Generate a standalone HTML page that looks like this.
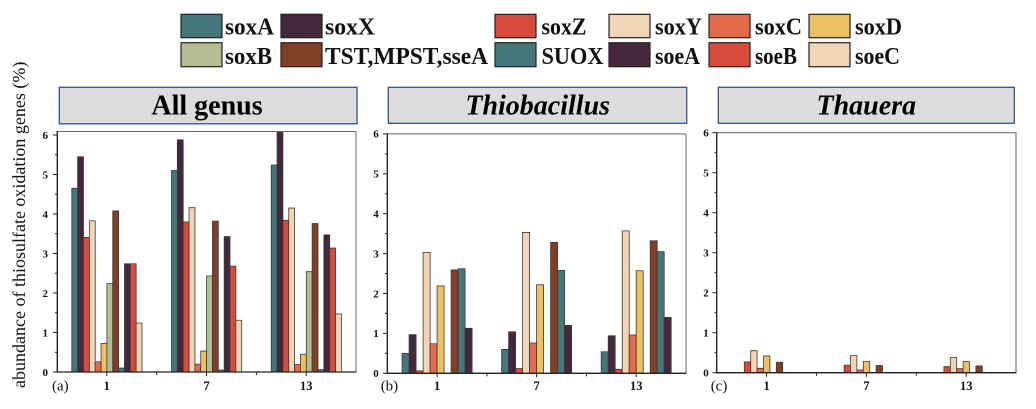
<!DOCTYPE html>
<html><head><meta charset="utf-8"><style>
html,body{margin:0;padding:0;background:#fff;}
svg{display:block;font-family:"Liberation Serif","Times New Roman",serif;}
text{font-family:"Liberation Serif","Times New Roman",serif;}
.bar{stroke:#3a3a3a;stroke-width:0.8;vector-effect:non-scaling-stroke;}
.yt{font-size:11px;font-weight:bold;text-anchor:end;}
.xt{font-size:12.5px;font-weight:bold;text-anchor:middle;}
.lg{font-size:24px;font-weight:bold;}
.ttl{font-size:28px;font-weight:bold;text-anchor:middle;}
.A{fill:#44777a}.X{fill:#43293b}.Z{fill:#d84b3c}.Y{fill:#f1d5b5}.C{fill:#e36b4c}.D{fill:#eec064}.B{fill:#b6bd95}.T{fill:#823f28}
</style></head><body>
<svg width="1036" height="409" viewBox="0 0 1036 409" xmlns="http://www.w3.org/2000/svg" font-family="Liberation Serif, Times New Roman, serif">
<!-- Legend -->
<g stroke="#222" stroke-width="1.2">
<rect class="A" x="181" y="14.3" width="41" height="23.4"/>
<rect class="X" x="281" y="14.3" width="41" height="23.4"/>
<rect class="Z" x="495" y="14.3" width="41" height="23.4"/>
<rect class="Y" x="609" y="14.3" width="41" height="23.4"/>
<rect class="C" x="709" y="14.3" width="41" height="23.4"/>
<rect class="D" x="809" y="14.3" width="41" height="23.4"/>
<rect class="B" x="181" y="42.7" width="41" height="24"/>
<rect class="T" x="281" y="42.7" width="41" height="24"/>
<rect class="A" x="495" y="42.7" width="41" height="24"/>
<rect class="X" x="609" y="42.7" width="41" height="24"/>
<rect class="Z" x="709" y="42.7" width="41" height="24"/>
<rect fill="#f1d6b8" x="809" y="42.7" width="41" height="24"/>
</g>
<g class="lg" fill="#111">
<text x="225" y="34.5" textLength="49" lengthAdjust="spacingAndGlyphs">soxA</text>
<text x="325" y="34.5" textLength="50" lengthAdjust="spacingAndGlyphs">soxX</text>
<text x="541.5" y="34.5" textLength="45" lengthAdjust="spacingAndGlyphs">soxZ</text>
<text x="655" y="34.5" textLength="47" lengthAdjust="spacingAndGlyphs">soxY</text>
<text x="755" y="34.5" textLength="47" lengthAdjust="spacingAndGlyphs">soxC</text>
<text x="855" y="34.5" textLength="47" lengthAdjust="spacingAndGlyphs">soxD</text>
<text x="225" y="64" textLength="47" lengthAdjust="spacingAndGlyphs">soxB</text>
<text x="325" y="64" textLength="163" lengthAdjust="spacingAndGlyphs">TST,MPST,sseA</text>
<text x="541.5" y="64" textLength="62" lengthAdjust="spacingAndGlyphs">SUOX</text>
<text x="655" y="64" textLength="45" lengthAdjust="spacingAndGlyphs">soeA</text>
<text x="755" y="64" textLength="42" lengthAdjust="spacingAndGlyphs">soeB</text>
<text x="855" y="64" textLength="45" lengthAdjust="spacingAndGlyphs">soeC</text>
</g>

<!-- Y axis label -->
<text transform="translate(25,388) rotate(-90)" font-size="18" fill="#111">abundance of thiosulfate oxidation genes (%)</text>

<!-- Title boxes -->
<g fill="#dcdcdc" stroke="#2f5496" stroke-width="1.3">
<rect x="59.3" y="87.3" width="297.7" height="36.5"/>
<rect x="388.3" y="87.3" width="298.4" height="36"/>
<rect x="718.3" y="87.3" width="296" height="36"/>
</g>
<text class="ttl" x="207" y="114.5">All genus</text>
<text class="ttl" x="537.7" y="114.5" font-style="italic">Thiobacillus</text>
<text class="ttl" x="866.3" y="114.5" font-style="italic">Thauera</text>

<!-- ================= Panel 1 ================= -->
<g transform="translate(0,372) scale(1,-39.5)">
<rect class="bar A" x="71.8" y="0" width="5.85" height="4.65"/>
<rect class="bar X" x="77.65" y="0" width="5.85" height="5.45"/>
<rect class="bar Z" x="83.5" y="0" width="5.85" height="3.41"/>
<rect class="bar Y" x="89.35" y="0" width="5.85" height="3.83"/>
<rect class="bar C" x="95.2" y="0" width="5.85" height="0.26"/>
<rect class="bar D" x="101.05" y="0" width="5.85" height="0.72"/>
<rect class="bar B" x="106.9" y="0" width="5.85" height="2.24"/>
<rect class="bar T" x="112.75" y="0" width="5.85" height="4.08"/>
<rect class="bar A" x="118.6" y="0" width="5.85" height="0.1"/>
<rect class="bar X" x="124.45" y="0" width="5.85" height="2.74"/>
<rect class="bar Z" x="130.3" y="0" width="5.85" height="2.74"/>
<rect class="bar Y" x="136.15" y="0" width="5.85" height="1.24"/>

<rect class="bar A" x="171.5" y="0" width="5.85" height="5.1"/>
<rect class="bar X" x="177.35" y="0" width="5.85" height="5.88"/>
<rect class="bar Z" x="183.2" y="0" width="5.85" height="3.8"/>
<rect class="bar Y" x="189.05" y="0" width="5.85" height="4.16"/>
<rect class="bar C" x="194.9" y="0" width="5.85" height="0.2"/>
<rect class="bar D" x="200.75" y="0" width="5.85" height="0.53"/>
<rect class="bar B" x="206.6" y="0" width="5.85" height="2.43"/>
<rect class="bar T" x="212.45" y="0" width="5.85" height="3.82"/>
<rect class="bar A" x="218.3" y="0" width="5.85" height="0.05"/>
<rect class="bar X" x="224.15" y="0" width="5.85" height="3.43"/>
<rect class="bar Z" x="230" y="0" width="5.85" height="2.68"/>
<rect class="bar Y" x="235.85" y="0" width="5.85" height="1.31"/>

<rect class="bar A" x="271.2" y="0" width="5.85" height="5.24"/>
<rect class="bar X" x="277.05" y="0" width="5.85" height="6.07"/>
<rect class="bar Z" x="282.9" y="0" width="5.85" height="3.84"/>
<rect class="bar Y" x="288.75" y="0" width="5.85" height="4.15"/>
<rect class="bar C" x="294.6" y="0" width="5.85" height="0.19"/>
<rect class="bar D" x="300.45" y="0" width="5.85" height="0.45"/>
<rect class="bar B" x="306.3" y="0" width="5.85" height="2.54"/>
<rect class="bar T" x="312.15" y="0" width="5.85" height="3.76"/>
<rect class="bar A" x="318" y="0" width="5.85" height="0.06"/>
<rect class="bar X" x="323.85" y="0" width="5.85" height="3.47"/>
<rect class="bar Z" x="329.7" y="0" width="5.85" height="3.14"/>
<rect class="bar Y" x="335.55" y="0" width="5.85" height="1.47"/>
</g>
<rect x="57.3" y="131.5" width="298.7" height="240.5" fill="none" stroke="#666" stroke-width="1"/>
<g stroke="#222" stroke-width="1.3">
<line x1="57.3" y1="131" x2="57.3" y2="372.5"/>
<line x1="57" y1="372" x2="356.5" y2="372"/>
</g>
<g stroke="#222" stroke-width="1">
<line x1="53" y1="372" x2="57" y2="372"/><line x1="53" y1="332.5" x2="57" y2="332.5"/><line x1="53" y1="293" x2="57" y2="293"/><line x1="53" y1="253.5" x2="57" y2="253.5"/><line x1="53" y1="214" x2="57" y2="214"/><line x1="53" y1="174.5" x2="57" y2="174.5"/><line x1="53" y1="135" x2="57" y2="135"/>
<line x1="55" y1="352.25" x2="57" y2="352.25"/><line x1="55" y1="312.75" x2="57" y2="312.75"/><line x1="55" y1="273.25" x2="57" y2="273.25"/><line x1="55" y1="233.75" x2="57" y2="233.75"/><line x1="55" y1="194.25" x2="57" y2="194.25"/><line x1="55" y1="154.75" x2="57" y2="154.75"/>
<line x1="106.8" y1="372" x2="106.8" y2="376"/><line x1="206.5" y1="372" x2="206.5" y2="376"/><line x1="306.2" y1="372" x2="306.2" y2="376"/>
<line x1="156.7" y1="372" x2="156.7" y2="375"/><line x1="256.4" y1="372" x2="256.4" y2="375"/>
</g>
<g class="yt" fill="#111">
<text x="48" y="375.8">0</text><text x="48" y="336.3">1</text><text x="48" y="296.8">2</text><text x="48" y="257.3">3</text><text x="48" y="217.8">4</text><text x="48" y="178.3">5</text><text x="48" y="138.8">6</text>
</g>
<g class="xt" fill="#111">
<text x="106.8" y="390">1</text><text x="206.5" y="390">7</text><text x="306.2" y="390">13</text>
</g>
<text x="52" y="390.5" font-size="15" fill="#111">(a)</text>

<!-- ================= Panel 2 ================= -->
<g transform="translate(0,373.3) scale(1,-39.9)">
<rect class="bar A" x="402.1" y="0" width="7" height="0.5"/>
<rect class="bar X" x="409.1" y="0" width="7" height="0.97"/>
<rect class="bar Z" x="416.1" y="0" width="7" height="0.06"/>
<rect class="bar Y" x="423.1" y="0" width="7" height="3.03"/>
<rect class="bar C" x="430.1" y="0" width="7" height="0.74"/>
<rect class="bar D" x="437.1" y="0" width="7" height="2.19"/>
<rect class="bar T" x="451.1" y="0" width="7" height="2.59"/>
<rect class="bar A" x="458.1" y="0" width="7" height="2.62"/>
<rect class="bar X" x="465.1" y="0" width="7" height="1.13"/>

<rect class="bar A" x="501.6" y="0" width="7" height="0.6"/>
<rect class="bar X" x="508.6" y="0" width="7" height="1.04"/>
<rect class="bar Z" x="515.6" y="0" width="7" height="0.12"/>
<rect class="bar Y" x="522.6" y="0" width="7" height="3.53"/>
<rect class="bar C" x="529.6" y="0" width="7" height="0.76"/>
<rect class="bar D" x="536.6" y="0" width="7" height="2.22"/>
<rect class="bar T" x="550.6" y="0" width="7" height="3.28"/>
<rect class="bar A" x="557.6" y="0" width="7" height="2.58"/>
<rect class="bar X" x="564.6" y="0" width="7" height="1.2"/>

<rect class="bar A" x="601.2" y="0" width="7" height="0.54"/>
<rect class="bar X" x="608.2" y="0" width="7" height="0.94"/>
<rect class="bar Z" x="615.2" y="0" width="7" height="0.1"/>
<rect class="bar Y" x="622.2" y="0" width="7" height="3.57"/>
<rect class="bar C" x="629.2" y="0" width="7" height="0.96"/>
<rect class="bar D" x="636.2" y="0" width="7" height="2.57"/>
<rect class="bar T" x="650.2" y="0" width="7" height="3.32"/>
<rect class="bar A" x="657.2" y="0" width="7" height="3.05"/>
<rect class="bar X" x="664.2" y="0" width="7" height="1.4"/>
</g>
<rect x="387.3" y="133.9" width="298.7" height="239.4" fill="none" stroke="#666" stroke-width="1"/>
<g stroke="#222" stroke-width="1.3">
<line x1="387.3" y1="133.4" x2="387.3" y2="373.8"/>
<line x1="387" y1="373.3" x2="686.5" y2="373.3"/>
</g>
<g stroke="#222" stroke-width="1">
<line x1="383" y1="373.3" x2="387" y2="373.3"/><line x1="383" y1="333.4" x2="387" y2="333.4"/><line x1="383" y1="293.5" x2="387" y2="293.5"/><line x1="383" y1="253.6" x2="387" y2="253.6"/><line x1="383" y1="213.7" x2="387" y2="213.7"/><line x1="383" y1="173.8" x2="387" y2="173.8"/><line x1="383" y1="133.9" x2="387" y2="133.9"/>
<line x1="385" y1="353.35" x2="387" y2="353.35"/><line x1="385" y1="313.45" x2="387" y2="313.45"/><line x1="385" y1="273.55" x2="387" y2="273.55"/><line x1="385" y1="233.65" x2="387" y2="233.65"/><line x1="385" y1="193.75" x2="387" y2="193.75"/><line x1="385" y1="153.85" x2="387" y2="153.85"/>
<line x1="437.1" y1="373.3" x2="437.1" y2="377.3"/><line x1="536.6" y1="373.3" x2="536.6" y2="377.3"/><line x1="636.2" y1="373.3" x2="636.2" y2="377.3"/>
<line x1="486.9" y1="373.3" x2="486.9" y2="376.3"/><line x1="586.4" y1="373.3" x2="586.4" y2="376.3"/>
</g>
<g class="yt" fill="#111">
<text x="378.7" y="377.1">0</text><text x="378.7" y="337.2">1</text><text x="378.7" y="297.3">2</text><text x="378.7" y="257.4">3</text><text x="378.7" y="217.5">4</text><text x="378.7" y="177.6">5</text><text x="378.7" y="137.7">6</text>
</g>
<g class="xt" fill="#111">
<text x="437.1" y="390">1</text><text x="536.6" y="390">7</text><text x="636.2" y="390">13</text>
</g>
<text x="380.7" y="390.5" font-size="15" fill="#111">(b)</text>

<!-- ================= Panel 3 ================= -->
<g transform="translate(0,372.7) scale(1,-40)">
<rect class="bar Z" x="744.3" y="0" width="6.4" height="0.27"/>
<rect class="bar Y" x="750.7" y="0" width="6.4" height="0.55"/>
<rect class="bar C" x="757.1" y="0" width="6.4" height="0.11"/>
<rect class="bar D" x="763.5" y="0" width="6.4" height="0.42"/>
<rect class="bar T" x="776.3" y="0" width="6.4" height="0.26"/>

<rect class="bar Z" x="844.1" y="0" width="6.4" height="0.19"/>
<rect class="bar Y" x="850.5" y="0" width="6.4" height="0.43"/>
<rect class="bar C" x="856.9" y="0" width="6.4" height="0.07"/>
<rect class="bar D" x="863.3" y="0" width="6.4" height="0.28"/>
<rect class="bar T" x="876.1" y="0" width="6.4" height="0.18"/>

<rect class="bar Z" x="943.9" y="0" width="6.4" height="0.15"/>
<rect class="bar Y" x="950.3" y="0" width="6.4" height="0.38"/>
<rect class="bar C" x="956.7" y="0" width="6.4" height="0.1"/>
<rect class="bar D" x="963.1" y="0" width="6.4" height="0.28"/>
<rect class="bar T" x="975.9" y="0" width="6.4" height="0.17"/>
</g>
<rect x="716.7" y="132.7" width="299.3" height="240" fill="none" stroke="#666" stroke-width="1"/>
<g stroke="#222" stroke-width="1.3">
<line x1="716.7" y1="132.2" x2="716.7" y2="373.2"/>
<line x1="716.4" y1="372.7" x2="1016.5" y2="372.7"/>
</g>
<g stroke="#222" stroke-width="1">
<line x1="712.5" y1="372.7" x2="716.5" y2="372.7"/><line x1="712.5" y1="332.7" x2="716.5" y2="332.7"/><line x1="712.5" y1="292.7" x2="716.5" y2="292.7"/><line x1="712.5" y1="252.7" x2="716.5" y2="252.7"/><line x1="712.5" y1="212.7" x2="716.5" y2="212.7"/><line x1="712.5" y1="172.7" x2="716.5" y2="172.7"/><line x1="712.5" y1="132.7" x2="716.5" y2="132.7"/>
<line x1="714.5" y1="352.7" x2="716.5" y2="352.7"/><line x1="714.5" y1="312.7" x2="716.5" y2="312.7"/><line x1="714.5" y1="272.7" x2="716.5" y2="272.7"/><line x1="714.5" y1="232.7" x2="716.5" y2="232.7"/><line x1="714.5" y1="192.7" x2="716.5" y2="192.7"/><line x1="714.5" y1="152.7" x2="716.5" y2="152.7"/>
<line x1="766.6" y1="372.7" x2="766.6" y2="376.7"/><line x1="866.4" y1="372.7" x2="866.4" y2="376.7"/><line x1="966.2" y1="372.7" x2="966.2" y2="376.7"/>
<line x1="816.5" y1="372.7" x2="816.5" y2="375.7"/><line x1="916.3" y1="372.7" x2="916.3" y2="375.7"/>
</g>
<g class="yt" fill="#111">
<text x="708.8" y="376.5">0</text><text x="708.8" y="336.5">1</text><text x="708.8" y="296.5">2</text><text x="708.8" y="256.5">3</text><text x="708.8" y="216.5">4</text><text x="708.8" y="176.5">5</text><text x="708.8" y="136.5">6</text>
</g>
<g class="xt" fill="#111">
<text x="766.6" y="390">1</text><text x="866.4" y="390">7</text><text x="966.2" y="390">13</text>
</g>
<text x="710.7" y="390.5" font-size="15" fill="#111">(c)</text>
</svg>
</body></html>
